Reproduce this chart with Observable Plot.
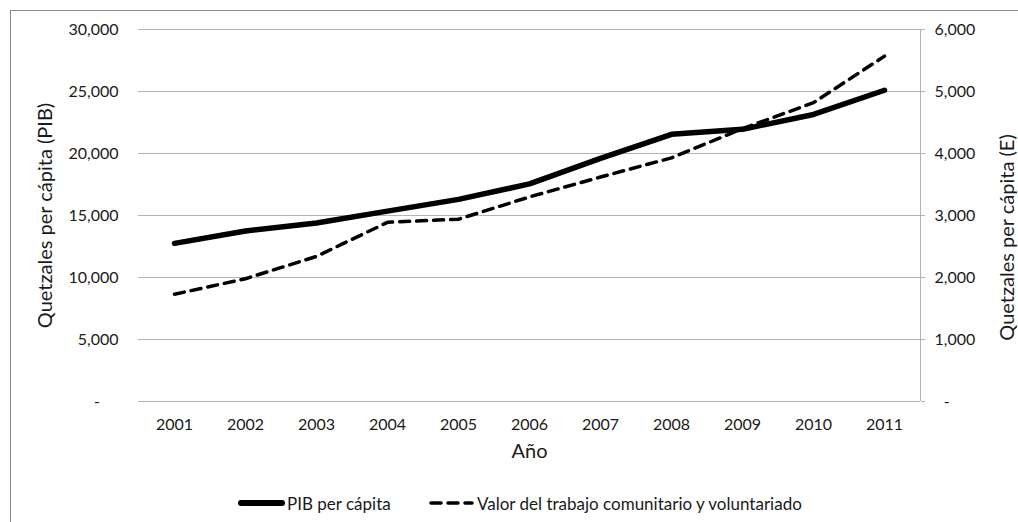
<!DOCTYPE html>
<html><head><meta charset="utf-8">
<script src="https://cdn.jsdelivr.net/npm/d3@7"></script>
<script src="https://cdn.jsdelivr.net/npm/@observablehq/plot@0.6"></script>
<style>
body{margin:0;background:#fff;font-family:Lato,"Open Sans",sans-serif;color:#1a1a1a;overflow:hidden;}
#frame{position:absolute;left:10px;top:10px;width:1100px;height:600px;border:1px solid #8c8c8c;}
#chart{position:absolute;left:0;top:0;}
#legend{position:absolute;top:492px;left:0;width:1018px;height:22px;font-size:17px;}
.item{position:absolute;top:0;display:flex;align-items:center;height:22px;white-space:nowrap;}
.item svg{display:block;margin-right:1px;}
</style></head><body>
<div id="frame"></div><div id="chart"></div><div id="legend"></div>
<script>
const years = ["2001","2002","2003","2004","2005","2006","2007","2008","2009","2010","2011"];
const pib = [12750, 13750, 14400, 15350, 16300, 17550, 19600, 21550, 21950, 23150, 25100];
const valor = [1730, 1980, 2340, 2890, 2940, 3300, 3620, 3930, 4400, 4820, 5570];
const leftTicks = [0, 5000, 10000, 15000, 20000, 25000, 30000];
const rightTicks = [0, 1000, 2000, 3000, 4000, 5000, 6000];
const seriesNames = ["PIB per cápita", "Valor del trabajo comunitario y voluntariado"];
const leftLabel = "Quetzales per cápita (PIB)";
const rightLabel = "Quetzales per cápita (E)";
const xLabel = "Año";

const ratio = leftTicks[leftTicks.length-1] / rightTicks[rightTicks.length-1];
const data = years.map((y,i)=>({year:y, pib:pib[i], valor:valor[i]}));
const fmt = d3.format(",");
const grid = "#b3b3b3";

const rightLine = (index, scales, values, dim) => {
  const x = dim.width - dim.marginRight;
  const line = document.createElementNS("http://www.w3.org/2000/svg","line");
  line.setAttribute("x1", x + 0.5); line.setAttribute("x2", x + 0.5);
  line.setAttribute("y1", dim.marginTop); line.setAttribute("y2", dim.height - dim.marginBottom);
  line.setAttribute("stroke", grid);
  return line;
};

const chart = Plot.plot({
  width: 1018, height: 470,
  marginLeft: 138, marginRight: 98, marginTop: 29, marginBottom: 69,
  style: {fontFamily: "Lato, 'Open Sans', sans-serif", fontSize: "16px", color: "#1a1a1a", background: "transparent"},
  x: {type: "point", domain: years, padding: 0.5},
  y: {domain: [0, leftTicks[leftTicks.length-1]]},
  marks: [
    Plot.gridY(leftTicks, {stroke: grid, strokeOpacity: 1}),
    rightLine,
    Plot.axisY(leftTicks, {anchor: "left", tickSize: 0, tickPadding: 20, label: null,
      tickFormat: d => d === 0 ? "-\u2007\u2007" : fmt(d)}),
    Plot.axisY(rightTicks.map(d => d * ratio), {anchor: "right", tickSize: 4, tickPadding: 10, label: null,
      stroke: grid, fill: "#1a1a1a",
      tickFormat: d => d === 0 ? "\u2007-" : fmt(d / ratio)}),
    Plot.axisX({tickSize: 0, tickPadding: 17, label: null}),
    Plot.text([leftLabel], {frameAnchor: "left", textAnchor: "middle", dx: -93, rotate: -90, fontSize: 20}),
    Plot.text([rightLabel], {frameAnchor: "right", textAnchor: "middle", dx: 87, dy: 22, rotate: -90, fontSize: 20}),
    Plot.text([xLabel], {frameAnchor: "bottom", dy: 56, fontSize: 20}),
    Plot.line(data, {x: "year", y: "pib", stroke: "#000", strokeWidth: 5.5, strokeLinecap: "round", strokeLinejoin: "round"}),
    Plot.line(data, {x: "year", y: d => d.valor * ratio, stroke: "#000", strokeWidth: 3.5, strokeDasharray: "10,7", strokeLinecap: "round", strokeLinejoin: "round"})
  ]
});
document.getElementById("chart").appendChild(chart);

const legend = document.getElementById("legend");
const items = [
  {name: seriesNames[0], left: 237, w: 6, dash: null},
  {name: seriesNames[1], left: 427, w: 3.5, dash: "10,7"}
];
items.forEach(it => {
  const div = document.createElement("div");
  div.className = "item";
  div.style.left = it.left + "px";
  div.innerHTML = `<svg width="49" height="12"><line x1="4" x2="45" y1="6" y2="6" stroke="#000" stroke-width="${it.w}" stroke-linecap="round" ${it.dash ? `stroke-dasharray="${it.dash}"` : ""}/></svg><span>${it.name}</span>`;
  legend.appendChild(div);
});
</script>
</body></html>
